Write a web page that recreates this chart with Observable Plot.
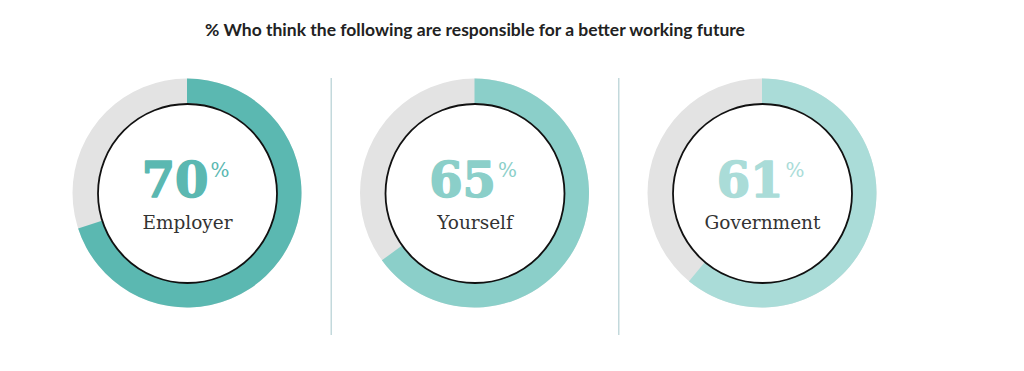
<!DOCTYPE html>
<html>
<head>
<meta charset="utf-8">
<script src="https://cdn.jsdelivr.net/npm/d3@7"></script>
<script src="https://cdn.jsdelivr.net/npm/@observablehq/plot@0.6"></script>
<style>
  html, body { margin: 0; padding: 0; background: #fff; }
  svg { display: block; }
</style>
</head>
<body>
<div id="chart"></div>
<script>
const title = "% Who think the following are responsible for a better working future";
const categories = ["Employer", "Yourself", "Government"];
const values = [70, 65, 61];
const colors = ["#5bb8b1", "#8bcfc9", "#aadcd8"];
const separators = [0.5, 1.5];

const data = categories.map((c, i) => ({i, category: c, value: values[i], color: colors[i], label: String(values[i])}));

const R_OUT = 114.5, R_IN = 89.5;

function rings(index, scales, vals, dims) {
  const x = scales.x;
  const cy = (dims.marginTop + dims.height - dims.marginBottom) / 2;
  const arc = d3.arc().innerRadius(R_IN).outerRadius(R_OUT);
  const g = d3.create("svg:g");
  const grp = g.selectAll("g").data(data).join("g")
    .attr("transform", d => `translate(${x(d.i)},${cy})`);
  grp.append("path").attr("fill", "#e3e3e3")
    .attr("d", arc({startAngle: 0, endAngle: 2 * Math.PI}));
  grp.append("path").attr("fill", d => d.color)
    .attr("d", d => arc({startAngle: 0, endAngle: d.value / 100 * 2 * Math.PI}));
  return g.node();
}

const chart = Plot.plot({
  width: 1024,
  height: 371,
  marginTop: 15,
  marginBottom: 0,
  marginLeft: 0,
  marginRight: 0,
  x: {type: "linear", domain: [0, 2], range: [187, 762], axis: null},
  style: {background: "#fff"},
  marks: [
    Plot.ruleX(separators, {x: d => d, stroke: "#c3d9dc", strokeWidth: 1.5, insetTop: 63, insetBottom: 36}),
    rings,
    Plot.dot(data, {x: "i", r: R_IN, fill: "#fff", stroke: "#111", strokeWidth: 1.8}),
    Plot.text(data, {x: "i", text: "label", fill: "color", stroke: "color", strokeWidth: 1.5, textAnchor: "end", dx: 21, dy: -12,
      fontFamily: "DejaVu Serif", fontWeight: "bold", fontSize: 48}),
    Plot.text(data, {x: "i", text: () => "%", fill: "color", textAnchor: "start", lineAnchor: "top", dx: 23, dy: -31,
      fontFamily: "DejaVu Serif", fontSize: 20}),
    Plot.text(data, {x: "i", text: "category", fill: "#333", dy: 30,
      fontFamily: "DejaVu Serif", fontSize: 18.5}),
    Plot.text([title], {x: () => 1, frameAnchor: "top", lineAnchor: "middle", dy: 15, text: d => d,
      fill: "#222", fontFamily: "Lato", fontWeight: "bold", fontSize: 17.5})
  ]
});
document.getElementById("chart").appendChild(chart);
</script>
</body>
</html>
